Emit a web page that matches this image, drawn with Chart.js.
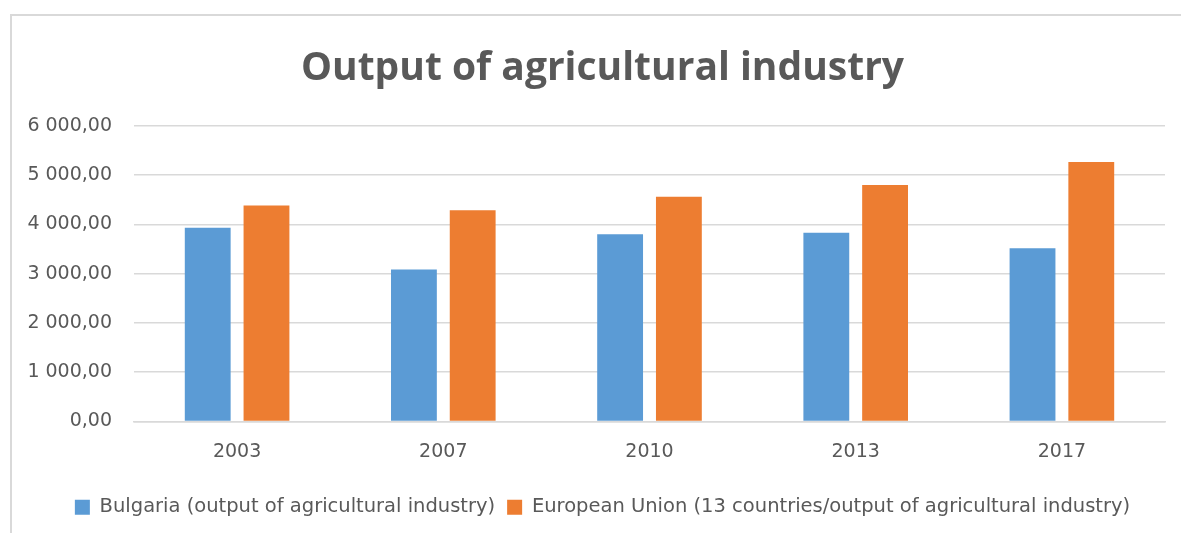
<!DOCTYPE html>
<html>
<head>
<meta charset="utf-8">
<script src="https://cdn.jsdelivr.net/npm/chart.js@4"></script>
<style>
  html, body { margin: 0; padding: 0; background: #fff; overflow: hidden; }
  #frame {
    position: absolute; left: 10px; top: 14px; width: 1200px; height: 540px;
    border-left: 2px solid #d9d9d9; border-top: 2px solid #d9d9d9;
  }
  #wrap { position: absolute; left: 0; top: 0; width: 1185px; height: 533px; }
</style>
</head>
<body>
<div id="frame"></div>
<div id="wrap"><canvas id="chart"></canvas></div>
<script>
// values
const years = ['2003', '2007', '2010', '2013', '2017'];
const bulgaria = [3932, 3085, 3800, 3828, 3515];
const eu13 = [4381, 4286, 4562, 4799, 5268];
const seriesNames = [
  'Bulgaria (output of agricultural industry)',
  'European Union (13 countries/output of agricultural industry)'
];

// 6000 -> "6 000,00"
function fmt(v) {
  const parts = v.toFixed(2).split('.');
  const int = parts[0].replace(/\B(?=(\d{3})+(?!\d))/g, ' ');
  return int + ',' + parts[1];
}

const txt = '#595959';

const ctx = document.getElementById('chart').getContext('2d');
new Chart(ctx, {
  type: 'bar',
  data: {
    labels: years,
    datasets: [
      {
        label: seriesNames[0],
        data: bulgaria,
        backgroundColor: '#5b9bd5',
        categoryPercentage: 0.57,
        barPercentage: 0.78
      },
      {
        label: seriesNames[1],
        data: eu13,
        backgroundColor: '#ed7d31',
        categoryPercentage: 0.57,
        barPercentage: 0.78
      }
    ]
  },
  options: {
    responsive: true,
    maintainAspectRatio: false,
    animation: false,
    layout: { padding: { left: 20, right: 0, top: 0, bottom: 6 } },
    plugins: {
      title: {
        display: true,
        text: 'Output of agricultural industry',
        color: txt,
        font: { family: 'Open Sans', size: 39, weight: 'bold' },
        padding: { top: 45, bottom: 34 }
      },
      legend: {
        position: 'bottom',
        labels: {
          color: txt,
          font: { family: 'DejaVu Sans', size: 19.5 },
          boxWidth: 15,
          boxHeight: 15,
          padding: 12
        }
      },
      tooltip: { enabled: false }
    },
    scales: {
      x: {
        grid: { display: false, drawTicks: false },
        border: { color: '#d9d9d9', width: 1.5 },
        ticks: { color: txt, font: { family: 'DejaVu Sans', size: 19 }, padding: 19 },
        afterFit: (s) => { s.height = 64; }
      },
      y: {
        min: 0,
        max: 6000,
        grid: { color: '#d9d9d9', lineWidth: 1.5, drawTicks: false },
        border: { display: false },
        ticks: {
          stepSize: 1000,
          color: txt,
          font: { family: 'DejaVu Sans', size: 19 },
          padding: 22,
          callback: (v) => fmt(v)
        },
        afterFit: (s) => { s.width = 114; }
      },
      // empty strip on the right so the title sits where it does in the original
      pad: {
        type: 'linear',
        position: 'right',
        grid: { display: false, drawTicks: false },
        border: { display: false },
        ticks: { display: false },
        afterFit: (s) => { s.width = 20; }
      }
    }
  }
});
</script>
</body>
</html>
